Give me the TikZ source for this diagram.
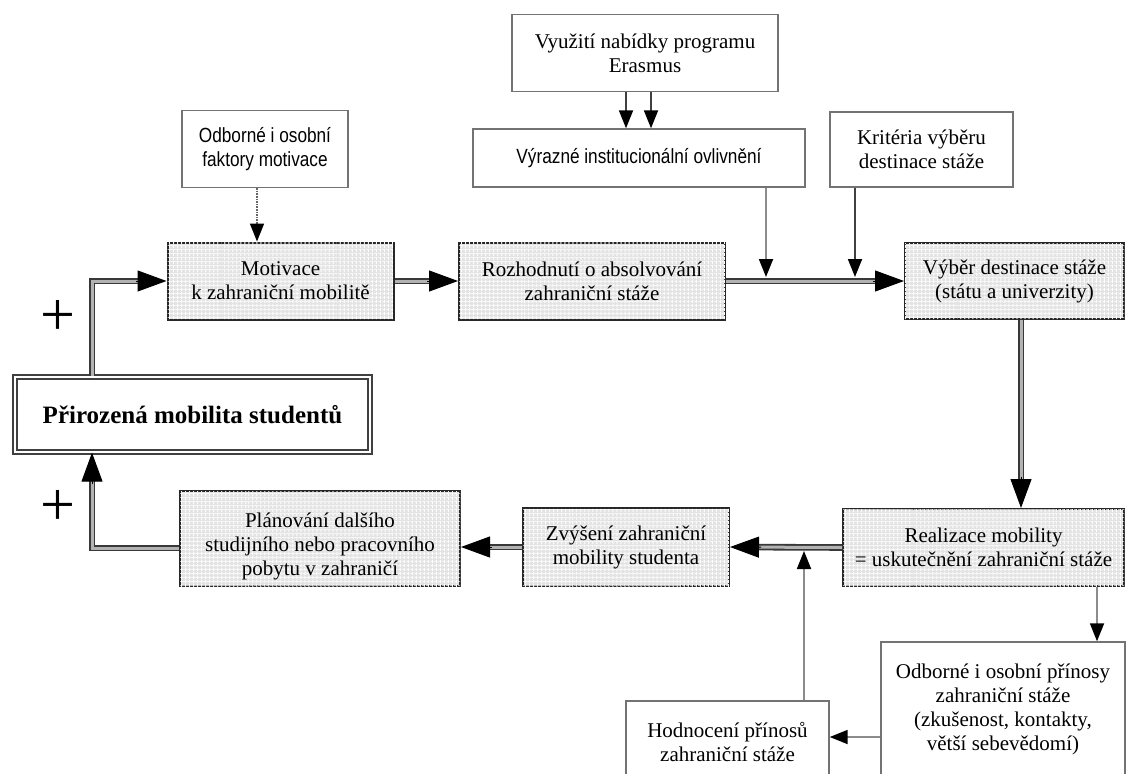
\documentclass[tikz,border=0pt]{standalone}
\usepackage{fontspec}
\setmainfont{Liberation Serif}
\setsansfont{Liberation Sans}
\newfontfamily\narrowsans[FakeStretch=0.84]{Liberation Sans}
\usetikzlibrary{arrows.meta,calc,patterns.meta}
\begin{document}
\begin{tikzpicture}[x=1pt,y=-1pt,
  every node/.style={align=center, inner sep=0pt, font=\fontsize{21}{24}\selectfont},
  shadedbox/.style={draw=black!85, line width=2pt, fill=black!11,
    postaction={pattern={Lines[angle=0,distance=4pt,line width=0.9pt]}, pattern color=white},
    postaction={pattern={Lines[angle=90,distance=4pt,line width=0.9pt]}, pattern color=white}},
  plainbox/.style={draw=black!55, line width=1.4pt, fill=white},
  sansfont/.style={font=\narrowsans\fontsize{20.5}{24}\selectfont},
  dbl/.style={draw=black!78, line width=1.8pt, double=black!30, double distance=3pt},
  bigtip/.style={-{Triangle[length=29pt,width=21pt,color=black]}, line width=1pt, black},
  sarr/.style={line width=1.8pt, draw=black!75, -{Triangle[length=18pt,width=14pt,color=black]}},
  garr/.style={sarr, draw=black!45},
  darr/.style={line width=1.6pt, draw=black!60, densely dotted, -{Triangle[length=18pt,width=14pt,color=black]}},
  plus/.style={font=\fontsize{62}{62}\selectfont}
]
\useasboundingbox (0,0) rectangle (1126,773);
\clip (0,0) rectangle (1126,773);
\fill[white] (0,0) rectangle (1126,773);

% nodes
\node[plainbox, minimum width=266pt, minimum height=77pt] (erasmus) at (645,53) {Využití nabídky programu\\Erasmus};
\node[plainbox, sansfont, minimum width=332pt, minimum height=58pt] (vyrazne) at (639,158) {Výrazné institucionální ovlivnění};
\node[plainbox, sansfont, minimum width=166pt, minimum height=77pt] (faktory) at (265,149) {Odborné i osobní\\faktory motivace};
\node[plainbox, minimum width=183pt, minimum height=75pt] (kriteria) at (921.5,149.5) {Kritéria výběru\\destinace stáže};

\node[shadedbox, minimum width=226pt, minimum height=77pt] (motivace) at (280.5,281) {Motivace\\k zahraniční mobilitě};
\node[shadedbox, minimum width=266pt, minimum height=77pt] (rozhodnuti) at (592,281) {Rozhodnutí o absolvování\\zahraniční stáže};
\node[shadedbox, minimum width=219pt, minimum height=76pt] (vyber) at (1014.5,281) {Výběr destinace stáže\\(státu a univerzity)};

\node[draw=black!75, line width=1.3pt, double=white, double distance=2.5pt, fill=white,
  minimum width=355pt, minimum height=75pt, font=\bfseries\fontsize{25}{28}\selectfont] (prir) at (192.5,414.5) {Přirozená mobilita studentů};

\node[shadedbox, minimum width=280pt, minimum height=95pt] (plan) at (320,538.5) {};
\node (plantext) at (320,546) {Plánování dalšího\\studijního nebo pracovního\\pobytu v zahraničí};
\node[shadedbox, minimum width=206pt, minimum height=78pt] (zvyseni) at (626,547) {Zvýšení zahraniční\\mobility studenta};
\node[shadedbox, minimum width=281pt, minimum height=77pt] (realizace) at (983.5,547.5) {Realizace mobility\\= uskutečnění zahraniční stáže};

\node[plainbox, minimum width=244pt, minimum height=134pt] (odborne) at (1003,709) {Odborné i osobní přínosy\\zahraniční stáže\\(zkušenost, kontakty,\\větší sebevědomí)};
\node[plainbox, minimum width=203pt, minimum height=82pt] (hodnoceni) at (727.5,742) {Hodnocení přínosů\\zahraniční stáže};

\node[plus] (plus1) at (58,318) {+};
\node[plus] (plus2) at (58,508) {+};

% junction coordinates
\coordinate (j1) at (766,277);
\coordinate (j2) at (855,277);
\coordinate (j3) at (804,551);
\coordinate (c1) at (92,281);
\coordinate (c2) at (92,548);

% thin arrows
\draw[sarr] (erasmus.south -| 626,0) -- (vyrazne.north -| 626,0);
\draw[sarr] (erasmus.south -| 651,0) -- (vyrazne.north -| 651,0);
\draw[darr] (faktory.south -| 257,0) -- (motivace.north -| 257,0);
\draw[garr] (vyrazne.south -| j1) -- (j1);
\draw[sarr] (kriteria.south -| j2) -- (j2);
\draw[garr] (realizace.south -| 1097,0) -- (odborne.north -| 1097,0);
\draw[garr] (odborne.west |- 0,737) -- (hodnoceni.east |- 0,737);
\draw[garr] (hodnoceni.north -| j3) -- (j3);

% double arrows
\draw[dbl, shorten >=20pt] (motivace.east) -- (rozhodnuti.west);
\draw[bigtip] ($(rozhodnuti.west)!31pt!(motivace.east)$) -- (rozhodnuti.west);

\draw[dbl, shorten >=20pt] (rozhodnuti.east) -- (vyber.west);
\draw[bigtip] ($(vyber.west)!31pt!(rozhodnuti.east)$) -- (vyber.west);

\draw[dbl, shorten >=20pt] (vyber.south -| 1021,0) -- (realizace.north -| 1021,0);
\draw[bigtip] ($(realizace.north -| 1021,0)!31pt!(vyber.south -| 1021,0)$) -- (realizace.north -| 1021,0);

\draw[dbl, shorten >=20pt] (realizace.west) -- (zvyseni.east);
\draw[bigtip] ($(zvyseni.east)!31pt!(realizace.west)$) -- (zvyseni.east);

\draw[dbl, shorten >=20pt] (zvyseni.west) -- (plan.east |- zvyseni.west);
\draw[bigtip] ($(plan.east |- zvyseni.west)!31pt!(zvyseni.west)$) -- (plan.east |- zvyseni.west);

\draw[dbl, shorten >=20pt] (prir.north -| c1) -- (c1) -- (motivace.west);
\draw[bigtip] ($(motivace.west)!31pt!(c1)$) -- (motivace.west);

\draw[dbl, shorten >=20pt] (plan.west |- c2) -- (c2) -- (prir.south -| c2);
\draw[bigtip] ($(prir.south -| c2)!31pt!(c2)$) -- (prir.south -| c2);
\end{tikzpicture}
\end{document}
